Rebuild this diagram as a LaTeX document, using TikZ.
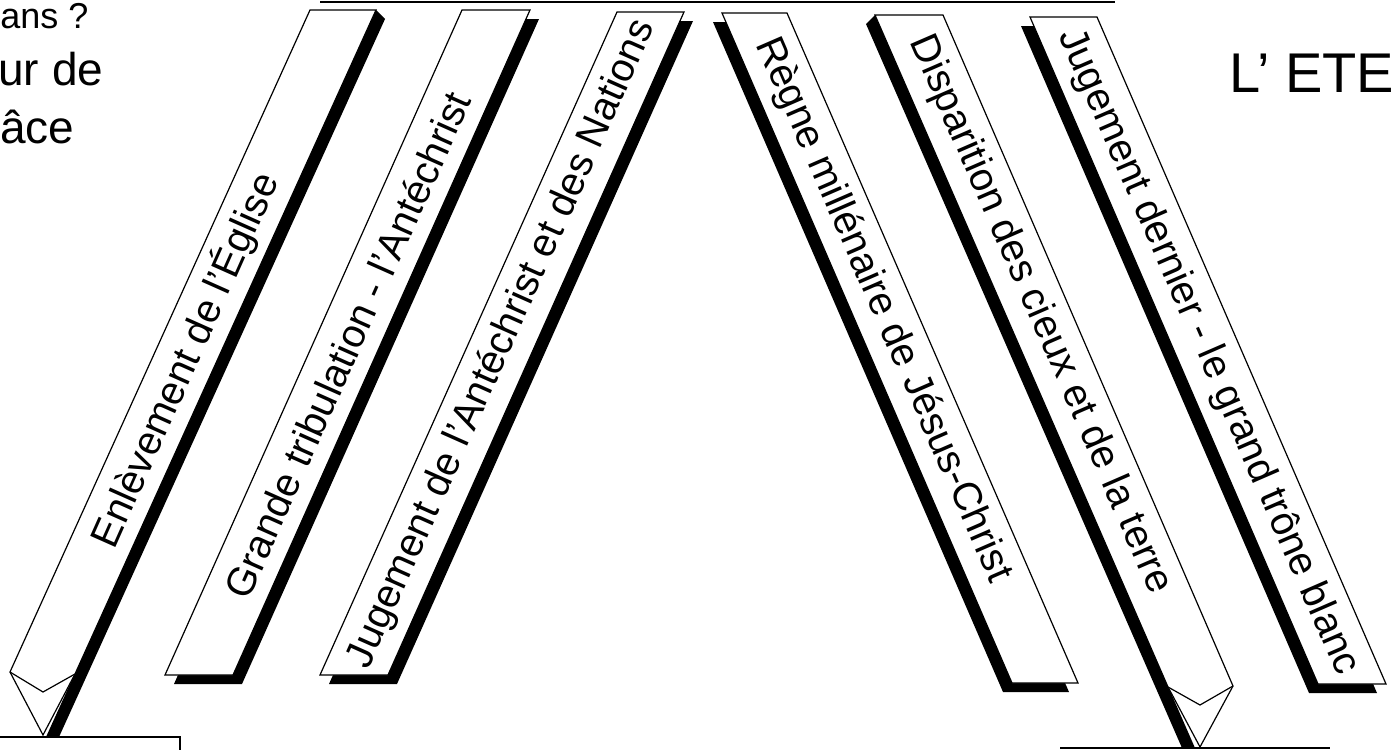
\documentclass[tikz,border=0pt]{standalone}
\usepackage{fontspec}
\setmainfont{Liberation Sans}
\begin{document}
\begin{tikzpicture}[
    x=0.5pt, y=-0.5pt,
    band/.style={draw=black, fill=white, line width=0.6pt, line join=miter},
    shade/.style={fill=black},
    bandtext/.style={font=\fontsize{20}{24}\selectfont, inner sep=0pt},
    cutline/.style={line width=1pt},
    sidetext/.style={inner sep=0pt, anchor=base west}
]
\useasboundingbox (0,0) rectangle (1394,750);

% Boxes cut off by the page
\draw[cutline] (320,2) -- (1115,2);
\draw[cutline] (0,737) -- (180,737) -- (180,750);
\draw[cutline] (1060,748) -- (1330,748);

% Left side text
\node[sidetext, font=\fontsize{18}{20}\selectfont] (ans) at (0,28) {ans ?};
\node[sidetext, font=\fontsize{23}{26}\selectfont] (jour) at (-2,85) {ur de};
\node[sidetext, font=\fontsize{23}{26}\selectfont] (grace) at (0,143) {âce};

% Right side text
\node[sidetext, font=\fontsize{28}{32}\selectfont] (eternite) at (1229,92) {L’ ETE};

% Enlevement
\fill[shade] (376,10) -- (385,19) -- (59,737) -- (46,737) -- cycle;
\draw[band] (310,10) -- (376,10) -- (75,674) -- (43,735) -- (10,672) -- cycle;
\draw[band] (10,672) -- (43,692) -- (75,674);
\node[bandtext, rotate=66] (enlevement) at (185,360) {Enlèvement de l’Église};

% Grande tribulation
\fill[shade] (471,19) -- (539,19) -- (242,684) -- (174,684) -- cycle;
\draw[band] (462,10) -- (530,10) -- (233,675) -- (165,675) -- cycle;
\node[bandtext, rotate=66] (tribulation) at (347,345) {Grande tribulation - l’Antéchrist};

% Jugement des nations
\fill[shade] (626,21) -- (693,21) -- (397,684) -- (329,684) -- cycle;
\draw[band] (617,12) -- (684,12) -- (388,675) -- (320,675) -- cycle;
\node[bandtext, rotate=66] (nations) at (502,344) {Jugement de l’Antéchrist et des Nations};

% Regne millenaire
\fill[shade] (713,22) -- (778,22) -- (1069,692) -- (1003,692) -- cycle;
\draw[band] (722,13) -- (787,13) -- (1078,683) -- (1012,683) -- cycle;
\node[bandtext, rotate=-66.5] (regne) at (883,310) {Règne millénaire de Jésus-Christ};

% Disparition
\fill[shade] (875,15) -- (866,24) -- (1182,748) -- (1195,748) -- cycle;
\draw[band] (875,15) -- (943,15) -- (1233,686) -- (1200,747) -- (1168,687) -- cycle;
\draw[band] (1168,687) -- (1200,705) -- (1233,686);
\node[bandtext, rotate=-66.5] (disparition) at (1040,315) {Disparition des cieux et de la terre};

% Jugement dernier
\fill[shade] (1021,26) -- (1088,26) -- (1377,693) -- (1309,693) -- cycle;
\draw[band] (1030,17) -- (1097,17) -- (1386,684) -- (1318,684) -- cycle;
\node[bandtext, rotate=-66.5] (trone) at (1208,352) {Jugement dernier - le grand trône blanc};

\end{tikzpicture}
\end{document}
